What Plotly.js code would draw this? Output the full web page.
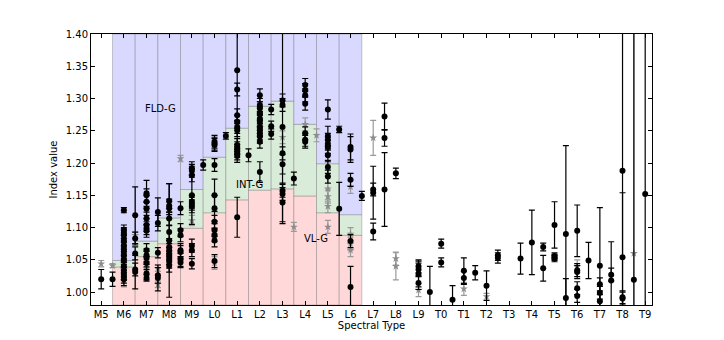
<!DOCTYPE html>
<html>
<head>
<meta charset="utf-8">
<script src="https://cdn.plot.ly/plotly-3.0.1.min.js"></script>
<style>
  html, body { margin: 0; padding: 0; background: #fff; }
  #chart { width: 724px; height: 340px; }
</style>
</head>
<body>
<div id="chart"></div>
<script>
// Spectral type tick labels (index 0 = M5)
const spectralTypes = ['M5','M6','M7','M8','M9','L0','L1','L2','L3','L4','L5','L6','L7','L8','L9',
                       'T0','T1','T2','T3','T4','T5','T6','T7','T8','T9'];

// Gravity class boundaries per spectral type bin (M6 .. L6)
const binTypes = [1, 2, 3, 4, 5, 6, 7, 8, 9, 10, 11];
const vlgTop   = [1.039, 1.055, 1.075, 1.099, 1.123, 1.143, 1.158, 1.160, 1.149, 1.123, 1.088];
const intTop   = [1.049, 1.079, 1.115, 1.159, 1.209, 1.254, 1.288, 1.296, 1.260, 1.199, 1.120];

// Black points: spectral type index, index value, uncertainty
const blackX = [
  0, 0.5,
  1,1,1,1,1,1,1,1,1,1,1,1,1,1,1,
  1.5,1.5,1.5,1.5,1.5,
  2,2,2,2,2,2,2,2,2,2,2,2,2,2,
  2.5,2.5,2.5,2.5,2.5,
  3,3,3,3,3,3,3,3,3,3,3,3,
  3.5,3.5,3.5,3.5,3.5,3.5,3.5,
  4,4,4,4,4,4,4,4,4,4,
  4.5,
  5,5,5,5,5,5,5,5,5,5,5,
  5.5,
  6,6,6,6,6,6,6,6,6,6,6,6,
  6.5,
  7,7,7,7,7,7,7,7,7,7,7,7,
  7.5,7.5,7.5,
  8,8,8,8,8,8,8,8,
  8.5,
  9,9,9,9,9,9,9,
  10,10,10,10,10,10,10,10,
  10.5,10.5,
  11,11,11,11,11,
  11.5,
  12,12,12,
  12.5,12.5,12.5,
  13,
  14,14,14,14,
  14.5,
  15,15,
  15.5,
  16,16,
  16.5,
  17,
  17.5,17.5,
  18.5,
  19,
  19.5,19.5,
  20,20,20,20,
  20.5,20.5,
  21,21,21,21,21,
  21.5,
  22,22,22,22,
  22.5,22.5,
  23,23,23,23,
  23.5,
  24
];
const blackY = [
  1.020, 1.020,
  1.127,1.096,1.092,1.088,1.080,1.073,1.067,1.062,1.056,1.049,1.040,1.033,1.028,1.024,1.020,
  1.119,1.083,1.060,1.035,1.031,
  1.153,1.150,1.140,1.129,1.114,1.104,1.099,1.095,1.065,1.057,1.053,1.045,1.029,1.022,
  1.124,1.107,1.061,1.026,1.022,
  1.141,1.134,1.130,1.114,1.093,1.080,1.070,1.065,1.059,1.053,1.047,1.041,
  1.130,1.096,1.088,1.065,1.062,1.050,1.046,
  1.192,1.188,1.181,1.150,1.140,1.137,1.133,1.072,1.065,1.044,
  1.197,
  1.233,1.230,1.228,1.197,1.150,1.130,1.109,1.096,1.088,1.080,1.048,
  1.242,
  1.344,1.314,1.274,1.264,1.256,1.251,1.228,1.223,1.219,1.215,1.211,1.116,
  1.212,
  1.305,1.290,1.285,1.277,1.269,1.264,1.256,1.251,1.246,1.241,1.233,1.186,
  1.283,1.257,1.245,
  1.297,1.290,1.256,1.215,1.198,1.157,1.152,1.139,
  1.176,
  1.321,1.313,1.305,1.292,1.246,1.236,1.233,
  1.283,1.242,1.236,1.230,1.225,1.212,1.194,1.179,
  1.252,1.129,
  1.225,1.221,1.174,1.079,1.008,
  1.149,
  1.159,1.154,1.094,
  1.272,1.239,1.159,
  1.184,
  1.040,1.035,1.028,1.014,
  1.000,
  1.075,1.046,
  0.988,
  1.033,1.022,
  1.030,
  1.010,
  1.057,1.053,
  1.052,
  1.077,
  1.070,1.037,
  1.104,1.056,1.054,1.052,
  1.090,0.991,
  1.095,1.034,1.031,1.006,0.994,
  1.049,
  1.041,1.012,0.999,0.986,
  1.027,1.018,
  1.188,1.054,0.992,0.990,
  1.019,
  1.152
];
const blackErr = [
  0.015, 0.011,
  0.004,0.008,0.008,0.010,0.010,0.010,0.010,0.010,0.010,0.010,0.010,0.010,0.010,0.010,0.010,
  0.044,0.010,0.010,0.010,0.026,
  0.020,0.010,0.010,0.010,0.010,0.010,0.010,0.010,0.010,0.010,0.010,0.010,0.010,0.005,
  0.022,0.012,0.008,0.012,0.020,
  0.027,0.010,0.010,0.010,0.010,0.088,0.010,0.010,0.010,0.010,0.010,0.010,
  0.010,0.010,0.010,0.010,0.010,0.010,0.008,
  0.010,0.010,0.010,0.045,0.010,0.010,0.010,0.010,0.010,0.008,
  0.008,
  0.010,0.010,0.010,0.010,0.025,0.020,0.010,0.010,0.010,0.010,0.010,
  0.005,
  0.130,0.010,0.010,0.010,0.010,0.010,0.010,0.010,0.010,0.010,0.010,0.031,
  0.010,
  0.010,0.010,0.010,0.010,0.010,0.010,0.010,0.010,0.010,0.010,0.010,0.016,
  0.008,0.008,0.008,
  0.010,0.010,0.150,0.010,0.015,0.010,0.010,0.030,
  0.010,
  0.010,0.010,0.010,0.010,0.010,0.010,0.010,
  0.015,0.015,0.010,0.010,0.010,0.010,0.010,0.010,
  0.005,0.041,
  0.020,0.020,0.010,0.010,0.032,
  0.007,
  0.010,0.041,0.013,
  0.021,0.013,0.057,
  0.008,
  0.010,0.010,0.020,0.010,
  0.040,
  0.007,0.007,
  0.022,
  0.020,0.010,
  0.011,
  0.023,
  0.008,0.008,
  0.024,
  0.050,
  0.006,0.020,
  0.036,0.005,0.005,0.005,
  0.137,0.030,
  0.040,0.010,0.010,0.010,0.010,
  0.028,
  0.090,0.010,0.010,0.010,
  0.010,0.060,
  0.300,0.100,0.010,0.010,
  0.400,
  0.300
];

// Grey points: spectral type index, index value, uncertainty
const greyX   = [0, 0.5, 1, 1, 1, 1.5, 2, 2, 2.5, 2.5, 3, 3.5, 4, 5, 7, 8, 8.5, 9, 9.5,
                 10, 10, 10, 10, 11, 11, 11, 11, 12, 13, 13, 14, 16, 17, 21, 23.5];
const greyY   = [1.044, 1.041, 1.045, 1.035, 1.018, 1.088, 1.042, 1.036, 1.037, 1.012, 1.128, 1.207, 1.111, 1.045, 1.255, 1.240, 1.101, 1.260, 1.243,
                 1.160, 1.148, 1.133, 1.101, 1.163, 1.090, 1.075, 1.065, 1.239, 1.052, 1.040, 1.003, 1.005, 0.993, 1.040, 1.060];
const greyErr = [0.005, 0.003, 0.010, 0.010, 0.010, 0.005, 0.008, 0.010, 0.005, 0.005, 0.005, 0.005, 0.008, 0.010, 0.010, 0.010, 0.007, 0.010, 0.010,
                 0.020, 0.010, 0.010, 0.010, 0.010, 0.010, 0.010, 0.010, 0.027, 0.010, 0.021, 0.010, 0.010, 0.005, 0.010, 0.400];

const yMin = 0.98, yMax = 1.40;

// Shaded gravity regions, one rectangle per bin
const shapes = [];
binTypes.forEach((t, i) => {
    const x0 = t - 0.5, x1 = t + 0.5;
    const edge = { color: 'rgba(60,60,60,0.25)', width: 1 };
    shapes.push({ type: 'rect', xref: 'x', yref: 'y', x0, x1, y0: yMin, y1: vlgTop[i],
                  fillcolor: 'rgb(255,217,217)', line: edge, layer: 'below' });
    shapes.push({ type: 'rect', xref: 'x', yref: 'y', x0, x1, y0: vlgTop[i], y1: intTop[i],
                  fillcolor: 'rgb(217,236,217)', line: edge, layer: 'below' });
    shapes.push({ type: 'rect', xref: 'x', yref: 'y', x0, x1, y0: intTop[i], y1: yMax,
                  fillcolor: 'rgb(217,217,255)', line: edge, layer: 'below' });
});

const traces = [
    {
        x: greyX, y: greyY, type: 'scatter', mode: 'markers',
        marker: { symbol: 'star', size: 6, color: '#8c8c8c' },
        error_y: { type: 'data', array: greyErr, visible: true, color: '#9a9a9a', thickness: 1.2, width: 3 },
        cliponaxis: true, showlegend: false, hoverinfo: 'skip'
    },
    {
        x: blackX, y: blackY, type: 'scatter', mode: 'markers',
        marker: { symbol: 'circle', size: 6, color: '#000' },
        error_y: { type: 'data', array: blackErr, visible: true, color: '#000', thickness: 1.2, width: 3 },
        cliponaxis: true, showlegend: false, hoverinfo: 'skip'
    }
];

const axisStyle = {
    showline: true, linecolor: '#000', linewidth: 1, mirror: 'ticks',
    ticks: 'inside', ticklen: 4, tickcolor: '#000', showgrid: false, zeroline: false,
    tickfont: { family: 'DejaVu Sans, sans-serif', size: 10, color: '#000' }
};

const layout = {
    width: 724, height: 340,
    margin: { l: 91, r: 72, t: 34, b: 35 },
    paper_bgcolor: '#fff', plot_bgcolor: '#fff',
    showlegend: false,
    xaxis: {
        ...axisStyle,
        range: [-0.45, 24.3],
        tickmode: 'array',
        tickvals: spectralTypes.map((_, i) => i),
        ticktext: spectralTypes,
        title: { text: 'Spectral Type', font: { family: 'DejaVu Sans, sans-serif', size: 10, color: '#000' }, standoff: 2 }
    },
    yaxis: {
        ...axisStyle,
        range: [yMin, yMax],
        tick0: 1.0, dtick: 0.05, tickformat: '.2f',
        title: { text: 'Index value', font: { family: 'DejaVu Sans, sans-serif', size: 10, color: '#000' }, standoff: 6 }
    },
    shapes: shapes,
    annotations: [
        { x: 2.63, y: 1.285, xref: 'x', yref: 'y', text: 'FLD-G', showarrow: false,
          font: { family: 'DejaVu Sans, sans-serif', size: 10, color: '#000' } },
        { x: 6.54, y: 1.166, xref: 'x', yref: 'y', text: 'INT-G', showarrow: false,
          font: { family: 'DejaVu Sans, sans-serif', size: 10, color: '#000' } },
        { x: 9.49, y: 1.083, xref: 'x', yref: 'y', text: 'VL-G', showarrow: false,
          font: { family: 'DejaVu Sans, sans-serif', size: 10, color: '#000' } }
    ]
};

Plotly.newPlot('chart', traces, layout, { staticPlot: true, displayModeBar: false });
</script>
</body>
</html>
